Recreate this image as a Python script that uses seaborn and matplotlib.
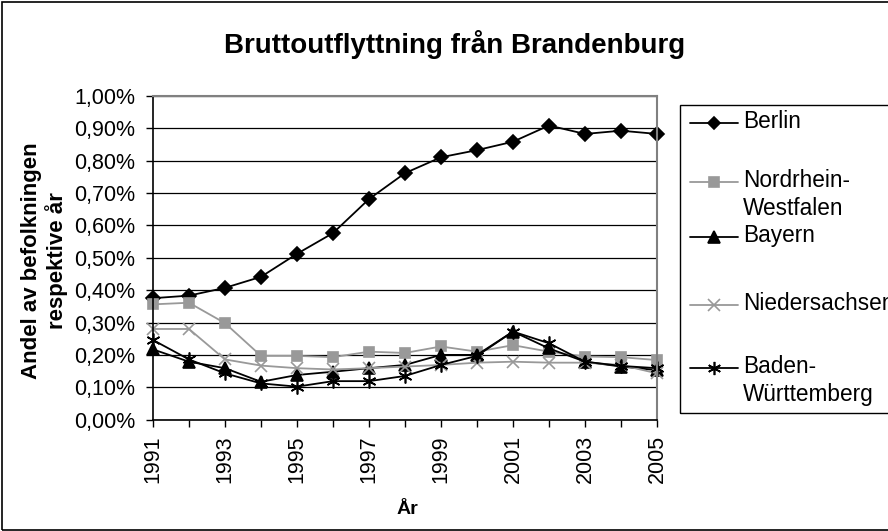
import pandas as pd
import matplotlib.pyplot as plt
import seaborn as sns
from matplotlib.lines import Line2D
from matplotlib.patches import Rectangle
from matplotlib.ticker import FuncFormatter

# Values (percent of population)
years = list(range(1991, 2006))
berlin = [0.375, 0.383, 0.407, 0.441, 0.512, 0.576, 0.681, 0.761, 0.810, 0.832, 0.858, 0.908, 0.882, 0.892, 0.882]
nrw = [0.356, 0.361, 0.298, 0.197, 0.197, 0.193, 0.210, 0.206, 0.226, 0.210, 0.230, 0.210, 0.195, 0.193, 0.184]
bayern = [0.217, 0.179, 0.159, 0.117, 0.138, 0.148, 0.159, 0.169, 0.200, 0.200, 0.272, 0.220, 0.179, 0.164, 0.153]
nieder = [0.280, 0.280, 0.186, 0.167, 0.159, 0.155, 0.159, 0.164, 0.169, 0.176, 0.179, 0.176, 0.176, 0.169, 0.143]
baden = [0.246, 0.186, 0.143, 0.112, 0.102, 0.119, 0.119, 0.135, 0.169, 0.197, 0.272, 0.236, 0.179, 0.166, 0.159]

regions = ["Berlin", "Nordrhein-Westfalen", "Bayern", "Niedersachsen", "Baden-Württemberg"]
legend_labels = ["Berlin", "Nordrhein-\nWestfalen", "Bayern", "Niedersachsen", "Baden-\nWürttemberg"]
series = [berlin, nrw, bayern, nieder, baden]

df = pd.concat([pd.DataFrame({"År": years, "andel": vals, "region": name})
                for name, vals in zip(regions, series)], ignore_index=True)

palette = {"Berlin": "black", "Nordrhein-Westfalen": "#999999", "Bayern": "black",
           "Niedersachsen": "#999999", "Baden-Württemberg": "black"}
markers = {"Berlin": "D", "Nordrhein-Westfalen": "s", "Bayern": "^",
           "Niedersachsen": "x", "Baden-Württemberg": (6, 2, 0)}
msizes = {"Berlin": 7, "Nordrhein-Westfalen": 7.5, "Bayern": 8.5,
          "Niedersachsen": 9, "Baden-Württemberg": 10}

sns.set_theme(style="white")
plt.rcParams['font.family'] = ['Liberation Sans', 'DejaVu Sans']
plt.rcParams['text.color'] = 'black'

W, H = 888, 531
fig = plt.figure(figsize=(W / 100, H / 100), dpi=100)
ax = fig.add_axes([153 / W, 1 - 419.7 / H, (657 - 153) / W, 324 / H])

# one call per region so filled and line-art markers can be mixed
for name in regions:
    c = palette[name]
    sns.lineplot(data=df[df["region"] == name], x="År", y="andel", color=c,
                 marker=markers[name], markersize=msizes[name], markeredgecolor=c,
                 markerfacecolor=c, markeredgewidth=1.2, linewidth=1.3,
                 clip_on=False, legend=False, ax=ax)

ax.set_xlim(1991, 2005)
ax.set_ylim(0, 1.0)
ax.set_yticks([i / 10 for i in range(11)])
ax.yaxis.set_major_formatter(FuncFormatter(lambda v, p: f"{v:.2f}%".replace(".", ",")))
ax.set_xticks(years)
ax.set_xticklabels([str(y) if (y - 1991) % 2 == 0 else "" for y in years], rotation=90)
ax.tick_params(axis="both", labelsize=15.5, colors="black", length=4.7, width=1, direction="out")
ax.tick_params(axis="x", pad=6.5)
ax.tick_params(axis="y", pad=8)
ax.set_xlabel("")
ax.set_ylabel("")

ax.grid(axis="y", color="black", linewidth=0.9)
ax.set_axisbelow(True)
for side in ["left", "bottom"]:
    ax.spines[side].set_color("black")
    ax.spines[side].set_linewidth(1.2)
for side in ["top", "right"]:
    ax.spines[side].set_color("#808080")
    ax.spines[side].set_linewidth(1.5)
ax.xaxis.set_ticks_position("bottom")
ax.yaxis.set_ticks_position("left")

fig.text(455 / W, 1 - 53 / H, "Bruttoutflyttning från Brandenburg", ha="center", va="baseline",
         fontsize=20, fontweight="bold", color="black")
fig.text(44.5 / W, 1 - 261 / H, "Andel av befolkningen\nrespektive år", ha="center", va="center",
         rotation=90, fontsize=16, fontweight="bold", multialignment="center", linespacing=1.15,
         color="black")
fig.text(407 / W, 1 - 514 / H, "År", ha="center", va="baseline", fontsize=14, fontweight="bold",
         color="black")

# legend drawn by hand: handle sits on the first text line, as in the original
baselines = [128, 187, 242, 310, 373]
line_step = 28
for name, label, base in zip(regions, legend_labels, baselines):
    c = palette[name]
    hy = 1 - (base - 5) / H
    fig.add_artist(Line2D([690 / W, 714 / W, 738 / W], [hy, hy, hy], transform=fig.transFigure,
                          color=c, linewidth=1.3, marker=markers[name], markevery=[1],
                          markersize=msizes[name] - 0.5, markerfacecolor=c, markeredgecolor=c,
                          markeredgewidth=1.2))
    for i, part in enumerate(label.split("\n")):
        fig.text(743 / W, 1 - (base + i * line_step) / H, part, ha="left", va="baseline",
                 fontsize=16.3, color="black")
fig.add_artist(Rectangle((680 / W, 1 - 413 / H), 300 / W, (413 - 105) / H,
                         transform=fig.transFigure, fill=False, edgecolor="black", linewidth=1))

fig.add_artist(Rectangle((1.5 / W, 1.5 / H), 900 / W, 528 / H,
                         transform=fig.transFigure, fill=False, edgecolor="black", linewidth=1.2))

fig.savefig("out.png", dpi=100)
